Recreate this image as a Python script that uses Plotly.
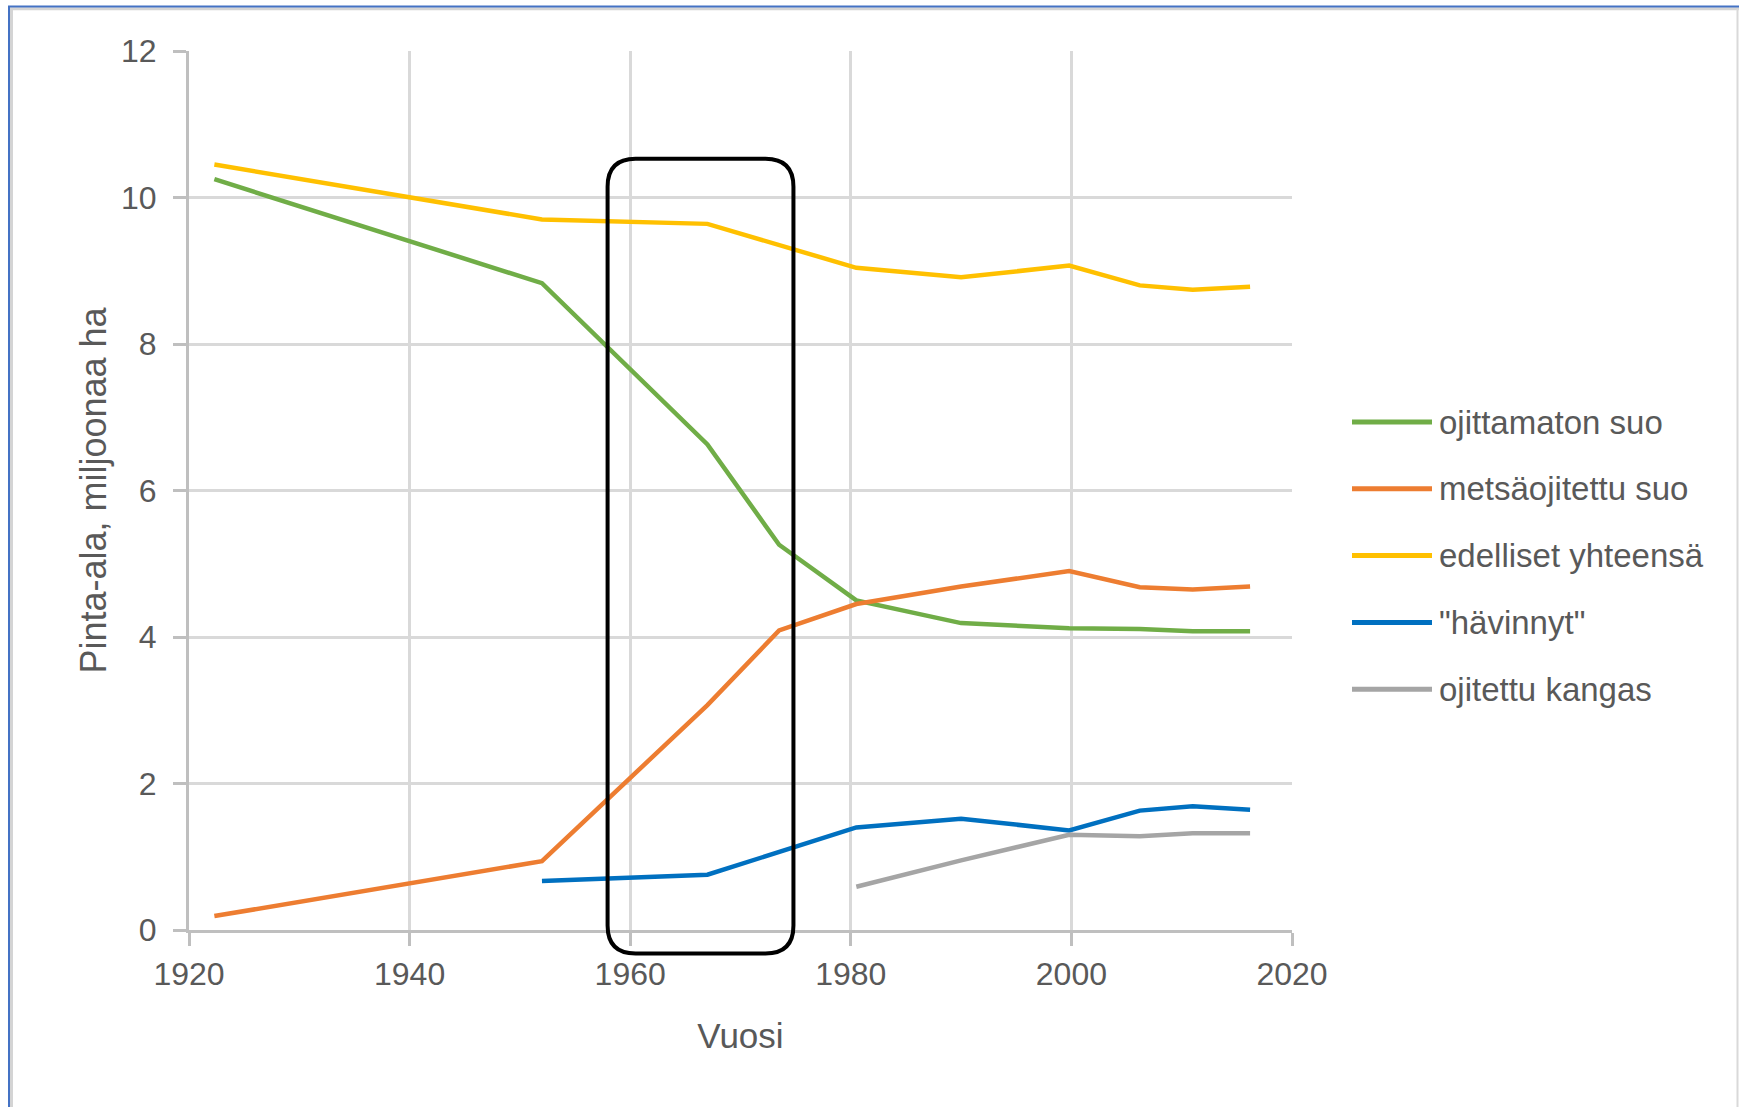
import plotly.graph_objects as go

# ---------------- data ----------------
years = [1922.3, 1952.0, 1967.0, 1973.5, 1980.5, 1990.0, 1999.8, 2006.2, 2011.0, 2016.2]
ojittamaton_suo = [10.25, 8.83, 6.63, 5.26, 4.50, 4.19, 4.12, 4.11, 4.08, 4.08]
metsaojitettu_suo = [0.19, 0.94, 3.07, 4.09, 4.45, 4.69, 4.90, 4.68, 4.65, 4.69]
edelliset_yhteensa = [10.45, 9.70, 9.64, 9.35, 9.04, 8.91, 9.07, 8.80, 8.74, 8.78]
havinnyt = [None, 0.67, 0.755, None, 1.40, 1.52, 1.36, 1.63, 1.69, 1.64]
ojitettu_kangas = [None, None, None, None, 0.59, 0.95, 1.30, 1.28, 1.32, 1.32]

series_names = ["ojittamaton suo", "metsäojitettu suo", "edelliset yhteensä", "\"hävinnyt\"", "ojitettu kangas"]
series_values = [ojittamaton_suo, metsaojitettu_suo, edelliset_yhteensa, havinnyt, ojitettu_kangas]
series_colors = ["#70ad47", "#ed7d31", "#ffc000", "#0070c0", "#a5a5a5"]

x_range = [1920, 2020]
y_range = [0, 12]
x_title = "Vuosi"
y_title = "Pinta-ala, miljoonaa ha"

# highlighted period box (data units)
box_x = [1957.95, 1974.8]
box_y = [-0.32, 10.53]

# ---------------- layout geometry ----------------
W, H = 1739, 1107
ML, MR, MT, MB = 189, 447, 51, 177
PW = W - ML - MR
PH = H - MT - MB
FONT = "Liberation Sans, Arial, sans-serif"
TXT = "#595959"


def px_x(px):
    return (px - ML) / PW


def px_y(py):
    return (H - MB - py) / PH


def dx(v):
    return (v - x_range[0]) / (x_range[1] - x_range[0])


def dy(v):
    return (v - y_range[0]) / (y_range[1] - y_range[0])


fig = go.Figure()
for name, vals, col in zip(series_names, series_values, series_colors):
    fig.add_trace(go.Scatter(
        x=years, y=vals, name=name, mode="lines",
        line=dict(color=col, width=4.5), connectgaps=True,
        showlegend=False,
    ))

shapes = []
annotations = []

# rounded highlight rectangle (paper coordinates derived from data)
x0, x1 = dx(box_x[0]), dx(box_x[1])
y0, y1 = dy(box_y[0]), dy(box_y[1])
rx = 28 / PW
ry = 28 / PH
path = (f"M{x0 + rx},{y1} L{x1 - rx},{y1} Q{x1},{y1} {x1},{y1 - ry} "
        f"L{x1},{y0 + ry} Q{x1},{y0} {x1 - rx},{y0} "
        f"L{x0 + rx},{y0} Q{x0},{y0} {x0},{y0 + ry} "
        f"L{x0},{y1 - ry} Q{x0},{y1} {x0 + rx},{y1} Z")
shapes.append(dict(type="path", xref="paper", yref="paper", path=path,
                   line=dict(color="black", width=4), fillcolor="rgba(0,0,0,0)", layer="above"))

# custom legend
leg_top = 422
leg_step = 66.8
for i, (name, col) in enumerate(zip(series_names, series_colors)):
    yc = leg_top + i * leg_step
    shapes.append(dict(type="line", xref="paper", yref="paper",
                       x0=px_x(1352), x1=px_x(1432), y0=px_y(yc), y1=px_y(yc),
                       line=dict(color=col, width=5)))
    annotations.append(dict(xref="paper", yref="paper", x=px_x(1437), y=px_y(yc),
                            text=name, showarrow=False, xanchor="left", yanchor="middle",
                            font=dict(family=FONT, size=33, color=TXT)))

# outer chart frame (selection border)
shapes.append(dict(type="line", xref="paper", yref="paper",
                   x0=px_x(9), x1=px_x(W), y0=px_y(8.8), y1=px_y(8.8),
                   line=dict(color="#d4d4d4", width=3)))
shapes.append(dict(type="line", xref="paper", yref="paper",
                   x0=px_x(11.5), x1=px_x(11.5), y0=px_y(8), y1=px_y(H),
                   line=dict(color="#d4d4d4", width=3)))
shapes.append(dict(type="line", xref="paper", yref="paper",
                   x0=px_x(8), x1=px_x(W), y0=px_y(6.5), y1=px_y(6.5),
                   line=dict(color="#4472c4", width=2)))
shapes.append(dict(type="line", xref="paper", yref="paper",
                   x0=px_x(9), x1=px_x(9), y0=px_y(6), y1=px_y(H),
                   line=dict(color="#4472c4", width=2)))
shapes.append(dict(type="line", xref="paper", yref="paper",
                   x0=px_x(1737.5), x1=px_x(1737.5), y0=px_y(9), y1=px_y(H),
                   line=dict(color="#d9d9d9", width=2)))

fig.update_layout(
    width=W, height=H,
    margin=dict(l=ML, r=MR, t=MT, b=MB, autoexpand=False),
    paper_bgcolor="white", plot_bgcolor="white",
    showlegend=False,
    shapes=shapes, annotations=annotations,
    font=dict(family=FONT, color=TXT),
)
fig.update_xaxes(
    range=x_range, dtick=20, tick0=1920, showgrid=True, gridcolor="#d9d9d9", gridwidth=2.5,
    showline=True, linecolor="#bfbfbf", linewidth=3, zeroline=False,
    ticks="outside", ticklen=13, tickwidth=3, tickcolor="#bfbfbf",
    tickfont=dict(family=FONT, size=32, color=TXT), ticklabelstandoff=1,
    title=dict(text=x_title, font=dict(family=FONT, size=35, color=TXT), standoff=33),
    automargin=False,
)
fig.update_yaxes(
    range=y_range, dtick=2, showgrid=True, gridcolor="#d9d9d9", gridwidth=2.5,
    showline=True, linecolor="#bfbfbf", linewidth=3, zeroline=False,
    ticks="outside", ticklen=13, tickwidth=3, tickcolor="#bfbfbf",
    tickfont=dict(family=FONT, size=32, color=TXT), ticklabelstandoff=10,
    title=dict(text=y_title, font=dict(family=FONT, size=36, color=TXT), standoff=4),
    automargin=False,
)

fig.write_html("out.html")
